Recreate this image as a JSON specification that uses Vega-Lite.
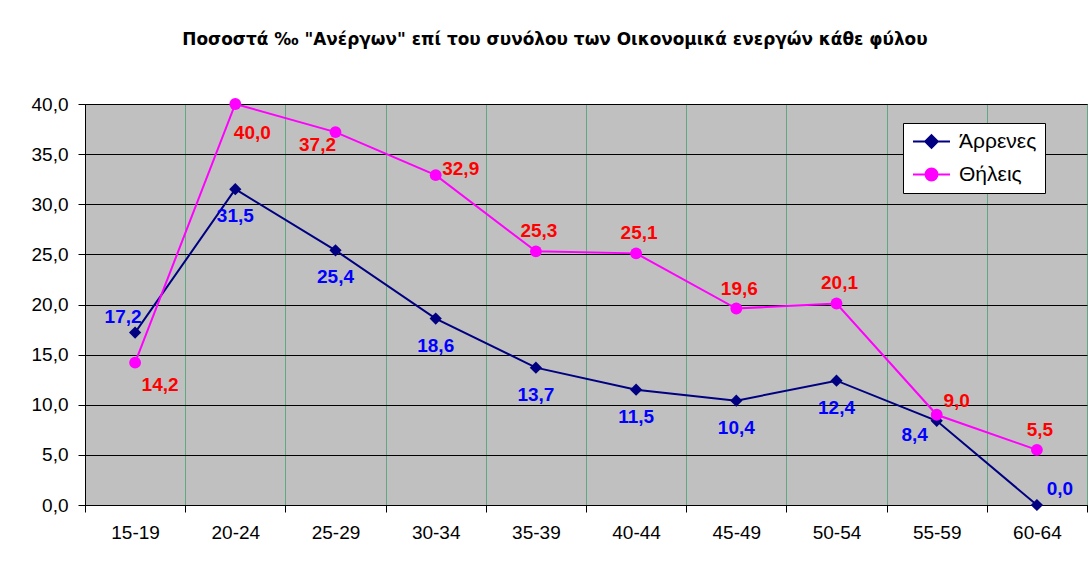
{
  "$schema": "https://vega.github.io/schema/vega-lite/v6.json",
  "width": 1002,
  "height": 401,
  "autosize": {"type": "none"},
  "padding": {"left": 85, "top": 104, "right": 1, "bottom": 60},
  "background": "#ffffff",
  "title": {
    "text": "Ποσοστά ‰ \"Ανέργων\" επί του συνόλου των Οικονομικά ενεργών κάθε φύλου",
    "font": "DejaVu Sans",
    "fontSize": 16.9,
    "fontWeight": "bold",
    "color": "#000000",
    "anchor": "middle",
    "dx": -31,
    "baseline": "alphabetic",
    "offset": 33
  },
  "config": {
    "locale": {"number": {"decimal": ",", "thousands": ".", "grouping": [3], "currency": ["", " €"]}},
    "view": {"fill": "#C0C0C0", "stroke": "#000000", "strokeWidth": 1},
    "font": "Liberation Sans",
    "axis": {
      "labelFont": "Liberation Sans",
      "labelFontSize": 19,
      "labelColor": "#000000",
      "domainColor": "#000000",
      "tickColor": "#000000",
      "tickSize": 7,
      "title": null
    },
    "legend": {
      "labelFont": "Liberation Sans",
      "labelFontSize": 21,
      "labelColor": "#000000"
    }
  },
  "data": {
    "values": [
      {"age": "15-19", "series": "Άρρενες", "value": 17.2},
      {"age": "20-24", "series": "Άρρενες", "value": 31.5},
      {"age": "25-29", "series": "Άρρενες", "value": 25.4},
      {"age": "30-34", "series": "Άρρενες", "value": 18.6},
      {"age": "35-39", "series": "Άρρενες", "value": 13.7},
      {"age": "40-44", "series": "Άρρενες", "value": 11.5},
      {"age": "45-49", "series": "Άρρενες", "value": 10.4},
      {"age": "50-54", "series": "Άρρενες", "value": 12.4},
      {"age": "55-59", "series": "Άρρενες", "value": 8.4},
      {"age": "60-64", "series": "Άρρενες", "value": 0.0},
      {"age": "15-19", "series": "Θήλεις", "value": 14.2},
      {"age": "20-24", "series": "Θήλεις", "value": 40.0},
      {"age": "25-29", "series": "Θήλεις", "value": 37.2},
      {"age": "30-34", "series": "Θήλεις", "value": 32.9},
      {"age": "35-39", "series": "Θήλεις", "value": 25.3},
      {"age": "40-44", "series": "Θήλεις", "value": 25.1},
      {"age": "45-49", "series": "Θήλεις", "value": 19.6},
      {"age": "50-54", "series": "Θήλεις", "value": 20.1},
      {"age": "55-59", "series": "Θήλεις", "value": 9.0},
      {"age": "60-64", "series": "Θήλεις", "value": 5.5}
    ]
  },
  "encoding": {
    "x": {
      "field": "age",
      "type": "ordinal",
      "sort": null,
      "scale": {"type": "band", "paddingInner": 0, "paddingOuter": 0},
      "axis": {
        "labelAngle": 0,
        "tickBand": "extent",
        "grid": true,
        "gridColor": "#5FA882",
        "gridWidth": 1,
        "labelPadding": 11,
        "domainColor": "#000000"
      }
    },
    "y": {
      "field": "value",
      "type": "quantitative",
      "scale": {"domain": [0, 40], "nice": false},
      "axis": {
        "values": [0, 5, 10, 15, 20, 25, 30, 35, 40],
        "format": ".1f",
        "grid": true,
        "gridColor": "#000000",
        "gridWidth": 1,
        "labelPadding": 10
      }
    }
  },
  "layer": [
    {
      "mark": {"type": "line", "strokeWidth": 2},
      "encoding": {
        "color": {
          "field": "series",
          "type": "nominal",
          "scale": {"domain": ["Άρρενες", "Θήλεις"], "range": ["#000080", "#FF00FF"]},
          "legend": {
            "title": null,
            "orient": "none",
            "legendX": 818,
            "legendY": 19,
            "fillColor": "#ffffff",
            "strokeColor": "#000000",
            "padding": 8,
            "symbolSize": 219,
            "symbolOffset": 10,
            "labelOffset": 17,
            "rowPadding": 11,
            "symbolStrokeWidth": 2,
            "encode": {
              "symbols": {
                "update": {
                  "shape": {"signal": "datum.value == 'Άρρενες' ? 'M-2.5,0H2.5M0,-0.85L0.85,0L0,0.85L-0.85,0Z' : 'M-2.5,0H2.5M-0.8,0A0.8,0.8,0,1,1,0.8,0A0.8,0.8,0,1,1,-0.8,0Z'"},
                  "fill": {"signal": "datum.value == 'Άρρενες' ? '#000080' : '#FF00FF'"},
                  "stroke": {"signal": "datum.value == 'Άρρενες' ? '#000080' : '#FF00FF'"},
                  "strokeWidth": {"value": 2}
                }
              }
            }
          }
        }
      }
    },
    {
      "transform": [{"filter": "datum.series == 'Άρρενες'"}],
      "mark": {"type": "point", "shape": "diamond", "filled": true, "size": 150, "color": "#000080", "opacity": 1}
    },
    {
      "transform": [{"filter": "datum.series == 'Θήλεις'"}],
      "mark": {"type": "point", "shape": "circle", "filled": true, "size": 140, "color": "#FF00FF", "opacity": 1}
    },
    {
      "transform": [{"filter": "datum.series == 'Άρρενες' && indexof(['15-19','55-59','60-64'], datum.age) < 0"}],
      "mark": {"type": "text", "font": "Liberation Sans", "fontSize": 19, "fontWeight": "bold", "color": "#0000FF", "dy": 27},
      "encoding": {"text": {"field": "value", "type": "quantitative", "format": ".1f"}}
    },
    {
      "transform": [{"filter": "datum.series == 'Άρρενες' && datum.age == '15-19'"}],
      "mark": {"type": "text", "font": "Liberation Sans", "fontSize": 19, "fontWeight": "bold", "color": "#0000FF", "dx": -12, "dy": -16},
      "encoding": {"text": {"field": "value", "type": "quantitative", "format": ".1f"}}
    },
    {
      "transform": [{"filter": "datum.series == 'Άρρενες' && datum.age == '55-59'"}],
      "mark": {"type": "text", "font": "Liberation Sans", "fontSize": 19, "fontWeight": "bold", "color": "#0000FF", "dx": -22, "dy": 14},
      "encoding": {"text": {"field": "value", "type": "quantitative", "format": ".1f"}}
    },
    {
      "transform": [{"filter": "datum.series == 'Άρρενες' && datum.age == '60-64'"}],
      "mark": {"type": "text", "font": "Liberation Sans", "fontSize": 19, "fontWeight": "bold", "color": "#0000FF", "dx": 23, "dy": -16},
      "encoding": {"text": {"field": "value", "type": "quantitative", "format": ".1f"}}
    },
    {
      "transform": [{"filter": "datum.series == 'Θήλεις' && indexof(['15-19','20-24','25-29','30-34','55-59'], datum.age) < 0"}],
      "mark": {"type": "text", "font": "Liberation Sans", "fontSize": 19, "fontWeight": "bold", "color": "#FF0000", "dx": 3, "dy": -20},
      "encoding": {"text": {"field": "value", "type": "quantitative", "format": ".1f"}}
    },
    {
      "transform": [{"filter": "datum.series == 'Θήλεις' && datum.age == '15-19'"}],
      "mark": {"type": "text", "font": "Liberation Sans", "fontSize": 19, "fontWeight": "bold", "color": "#FF0000", "dx": 25, "dy": 22},
      "encoding": {"text": {"field": "value", "type": "quantitative", "format": ".1f"}}
    },
    {
      "transform": [{"filter": "datum.series == 'Θήλεις' && datum.age == '20-24'"}],
      "mark": {"type": "text", "font": "Liberation Sans", "fontSize": 19, "fontWeight": "bold", "color": "#FF0000", "dx": 17, "dy": 29},
      "encoding": {"text": {"field": "value", "type": "quantitative", "format": ".1f"}}
    },
    {
      "transform": [{"filter": "datum.series == 'Θήλεις' && datum.age == '25-29'"}],
      "mark": {"type": "text", "font": "Liberation Sans", "fontSize": 19, "fontWeight": "bold", "color": "#FF0000", "dx": -18, "dy": 13},
      "encoding": {"text": {"field": "value", "type": "quantitative", "format": ".1f"}}
    },
    {
      "transform": [{"filter": "datum.series == 'Θήλεις' && datum.age == '30-34'"}],
      "mark": {"type": "text", "font": "Liberation Sans", "fontSize": 19, "fontWeight": "bold", "color": "#FF0000", "dx": 25, "dy": -6},
      "encoding": {"text": {"field": "value", "type": "quantitative", "format": ".1f"}}
    },
    {
      "transform": [{"filter": "datum.series == 'Θήλεις' && datum.age == '55-59'"}],
      "mark": {"type": "text", "font": "Liberation Sans", "fontSize": 19, "fontWeight": "bold", "color": "#FF0000", "dx": 20, "dy": -14},
      "encoding": {"text": {"field": "value", "type": "quantitative", "format": ".1f"}}
    }
  ]
}
